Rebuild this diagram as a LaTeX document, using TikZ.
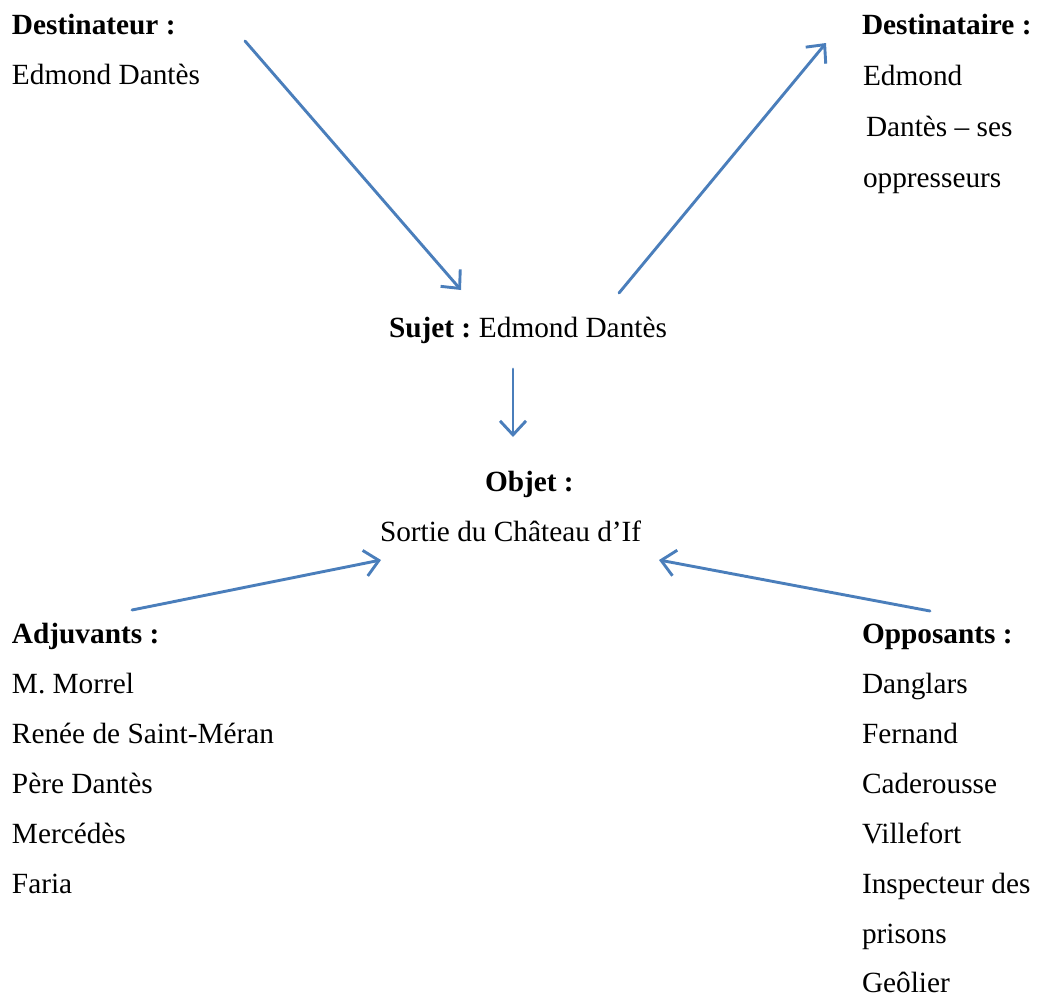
\documentclass[tikz,border=0pt]{standalone}
\usepackage{fontspec}
\setmainfont{Liberation Serif}
\usetikzlibrary{arrows.meta}
\definecolor{linkblue}{RGB}{74,126,187}
\begin{document}
\begin{tikzpicture}[x=1pt,y=-1pt,
  txt/.style={anchor=base west,inner sep=0pt,outer sep=0pt,font=\fontsize{29.3}{35}\selectfont},
  link/.style={draw=linkblue,line width=2.9pt,line cap=round,
    -{Straight Barb[length=14pt,width=26pt,line width=2.9pt]}}]
\useasboundingbox (0,0) rectangle (1038,999);

% Destinateur
\node[txt] (dr1) at (12,34) {\textbf{Destinateur :}};
\node[txt] (dr2) at (12,84) {Edmond Dantès};

% Destinataire
\node[txt] (da1) at (862,34) {\textbf{Destinataire :}};
\node[txt] (da2) at (863,85) {Edmond};
\node[txt] (da3) at (866,136) {Dantès – ses};
\node[txt] (da4) at (863,187) {oppresseurs};

% Sujet
\node[txt] (suj) at (389,337) {\textbf{Sujet :}\hspace{-2pt} Edmond Dantès};

% Objet
\node[txt] (obj1) at (485,491) {\textbf{Objet :}};
\node[txt] (obj2) at (380,541) {Sortie du Château d’If};

% Adjuvants
\node[txt] (ad0) at (12,643) {\textbf{Adjuvants :}};
\node[txt] (ad1) at (12,693) {M. Morrel};
\node[txt] (ad2) at (12,743) {Renée de Saint-Méran};
\node[txt] (ad3) at (12,793) {Père Dantès};
\node[txt] (ad4) at (12,843) {Mercédès};
\node[txt] (ad5) at (12,893) {Faria};

% Opposants
\node[txt] (op0) at (862,643) {\textbf{Opposants :}};
\node[txt] (op1) at (862,693) {Danglars};
\node[txt] (op2) at (862,743) {Fernand};
\node[txt] (op3) at (862,793) {Caderousse};
\node[txt] (op4) at (862,843) {Villefort};
\node[txt] (op5) at (862,893) {Inspecteur des};
\node[txt] (op6) at (862,943) {prisons};
\node[txt] (op7) at (862,992) {Geôlier};

% Arrow end points
\coordinate (a1s) at (245,41);  \coordinate (a1e) at (461,290);
\coordinate (a2s) at (619,293); \coordinate (a2e) at (826,43);
\coordinate (a3s) at (513,369); \coordinate (a3e) at (513,437);
\coordinate (a4s) at (132,610); \coordinate (a4e) at (381,560);
\coordinate (a5s) at (930,611); \coordinate (a5e) at (659,560);

\draw[link] (a1s) -- (a1e);
\draw[link] (a2s) -- (a2e);
\draw[link] (a3s) -- (a3e);
\draw[link] (a4s) -- (a4e);
\draw[link] (a5s) -- (a5e);
\end{tikzpicture}
\end{document}
